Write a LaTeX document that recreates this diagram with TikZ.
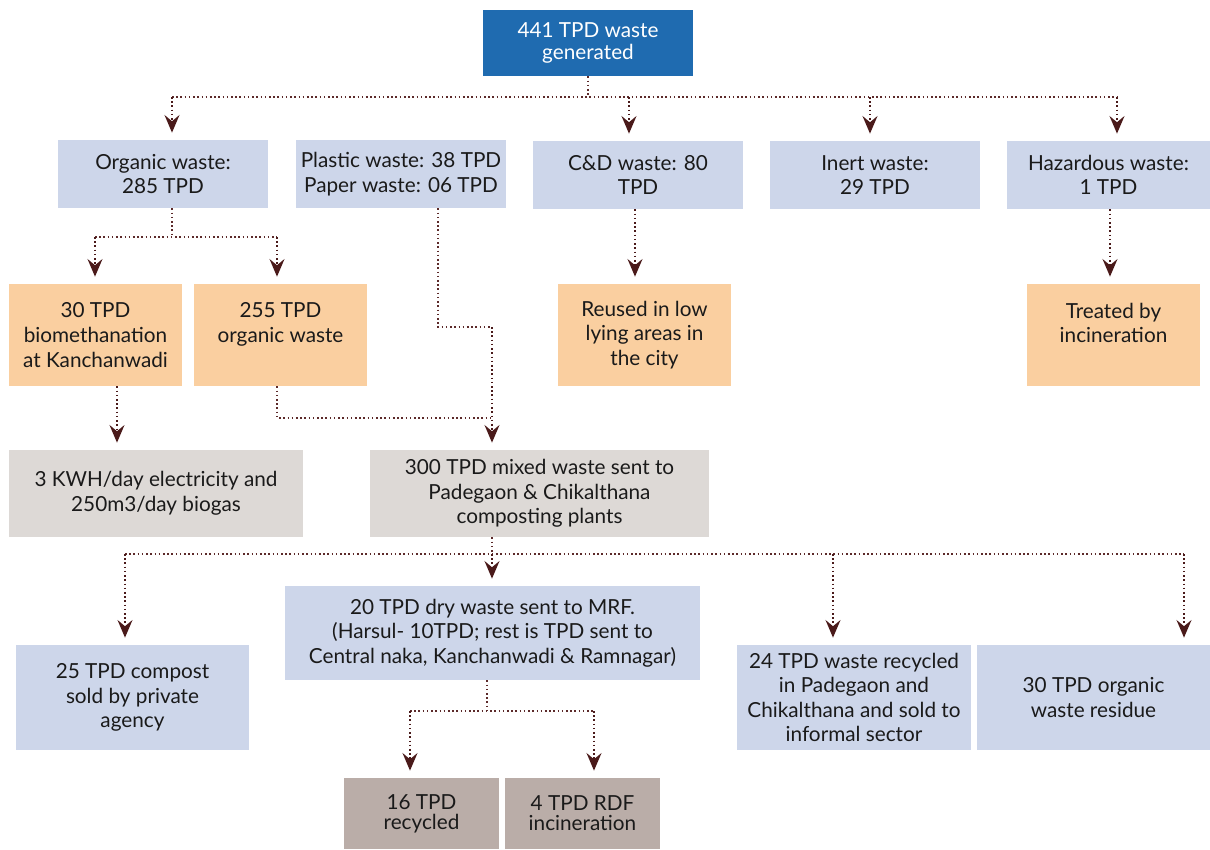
\documentclass[tikz,border=0pt]{standalone}
\usepackage{fontspec}
\setmainfont{Lato}
\usepackage{tikz}
\usetikzlibrary{arrows.meta,positioning,calc}
\usepackage{xcolor}
\definecolor{wblue}{RGB}{31,107,176}
\definecolor{wpale}{RGB}{205,214,234}
\definecolor{worange}{RGB}{250,207,160}
\definecolor{wgrey}{RGB}{221,217,214}
\definecolor{wmauve}{RGB}{186,173,168}
\definecolor{wline}{RGB}{92,42,42}
\definecolor{wtip}{RGB}{74,26,26}
\definecolor{wtext}{RGB}{26,26,26}
\tikzstyle{flow} = [line width=0.9pt, dash pattern=on 0.9pt off 1.5pt, color=wline]
\tikzstyle{arrow} = [flow, -{Stealth[length=10pt,width=8.5pt,inset=3.5pt]}, shorten >=4pt, color=wtip]
\tikzstyle{wbox} = [rectangle, inner sep=2pt, align=center, text=wtext, font=\fontsize{11.8}{14}\selectfont]
\tikzstyle{stream} = [wbox, fill=wpale, minimum width=4.2cm, minimum height=1.36cm]
\tikzstyle{route} = [wbox, fill=worange, minimum width=3.46cm, minimum height=2.04cm]
\tikzstyle{mrfout} = [wbox, fill=wmauve, minimum width=3.1cm, minimum height=1.42cm, font=\fontsize{11.8}{11.5}\selectfont]

\begin{document}
\begin{tikzpicture}[x=0.02cm, y=-0.02cm]
    \useasboundingbox (0,0) rectangle (1210,849);

    % Total waste
    \node[wbox, fill=wblue, text=white, minimum width=4.2cm, minimum height=1.32cm, font=\fontsize{11.8}{13}\selectfont] (gen) at (588,43) {441 TPD waste\\generated};

    % Waste streams
    \node[stream] (organic) at (163,174) {Organic waste:\\285 TPD};
    \node[stream] (plastic) at (401,174) {Plastic waste: 38 TPD\\Paper waste: 06 TPD};
    \node[stream] (cd) at (638,175) {C\&D waste: 80\\TPD};
    \node[stream] (inert) at (875,175) {Inert waste:\\29 TPD};
    \node[stream, minimum width=4.06cm] (hazard) at (1108.5,175) {Hazardous waste:\\1 TPD};

    % Treatment of the streams
    \node[route] (bio) at (95.5,335) {30 TPD\\biomethanation\\at Kanchanwadi};
    \node[route] (org255) at (280.5,335) {255 TPD\\organic waste\\\mbox{}};
    \node[route] (reuse) at (644.5,335) {Reused in low\\lying areas in\\the city};
    \node[route] (treat) at (1113.5,335) {Treated by\\incineration\\\mbox{}};

    % Outputs
    \node[wbox, fill=wgrey, minimum width=5.88cm, minimum height=1.74cm] (power) at (156,493.5) {3 KWH/day electricity and\\250m3/day biogas};
    \node[wbox, fill=wgrey, minimum width=6.78cm, minimum height=1.74cm] (mixed) at (539.5,493.5) {300 TPD mixed waste sent to\\Padegaon \& Chikalthana\\composting plants};

    % Plant outputs
    \node[stream, minimum width=4.66cm, minimum height=2.1cm] (compost) at (132.5,697.5) {25 TPD compost\\sold by private\\agency};
    \node[stream, minimum width=8.3cm, minimum height=1.88cm] (mrf) at (492.5,633) {20 TPD dry waste sent to MRF.\\(Harsul- 10TPD; rest is TPD sent to\\Central naka, Kanchanwadi \& Ramnagar)};
    \node[stream, minimum width=4.68cm, minimum height=2.1cm] (recyc24) at (854,697.5) {24 TPD waste recycled\\in Padegaon and\\Chikalthana and sold to\\informal sector};
    \node[stream, minimum width=4.66cm, minimum height=2.1cm] (residue) at (1093.5,697.5) {30 TPD organic\\waste residue};

    % MRF outputs
    \node[mrfout] (recyc16) at (421.5,813.5) {16 TPD\\recycled};
    \node[mrfout] (rdf) at (582.5,813.5) {4 TPD RDF\\incineration};

    % Split of the total
    \coordinate (t1) at (172,97);
    \coordinate (t2) at (629,97);
    \coordinate (t3) at (870,97);
    \coordinate (t4) at (1117,97);
    \draw[flow] (gen.south) -- (gen.south |- t1);
    \draw[flow] (t1) -- (t4);
    \draw[arrow] (t1) -- (t1 |- organic.north);
    \draw[arrow] (t2) -- (t2 |- cd.north);
    \draw[arrow] (t3) -- (t3 |- inert.north);
    \draw[arrow] (t4) -- (t4 |- hazard.north);

    % Organic split
    \coordinate (o0) at (172,237);
    \coordinate (o1) at (95,237);
    \coordinate (o2) at (277,237);
    \draw[flow] (o0 |- organic.south) -- (o0);
    \draw[flow] (o1) -- (o2);
    \draw[arrow] (o1) -- (o1 |- bio.north);
    \draw[arrow] (o2) -- (o2 |- org255.north);

    % To the composting plants
    \coordinate (p0) at (438,327);
    \coordinate (m0) at (492,327);
    \coordinate (g0) at (277,418);
    \draw[flow] (p0 |- plastic.south) -- (p0) -- (m0);
    \draw[flow] (g0 |- org255.south) -- (g0) -- (g0 -| m0);
    \draw[arrow] (m0) -- (m0 |- mixed.north);

    % Single routes
    \coordinate (b0) at (117,386);
    \coordinate (c0) at (635,209);
    \coordinate (h0) at (1110,209);
    \draw[arrow] (b0 |- bio.south) -- (b0 |- power.north);
    \draw[arrow] (c0 |- cd.south) -- (c0 |- reuse.north);
    \draw[arrow] (h0 |- hazard.south) -- (h0 |- treat.north);

    % Split at the plants
    \coordinate (x0) at (492,554);
    \coordinate (x1) at (125,554);
    \coordinate (x2) at (833,554);
    \coordinate (x4) at (1184,554);
    \draw[flow] (x0 |- mixed.south) -- (x0);
    \draw[flow] (x1) -- (x4);
    \draw[arrow] (x1) -- (x1 |- compost.north);
    \draw[arrow] (x0) -- (x0 |- mrf.north);
    \draw[arrow] (x2) -- (x2 |- recyc24.north);
    \draw[arrow] (x4) -- (x4 |- residue.north);

    % Split at the MRF
    \coordinate (r0) at (487,711);
    \coordinate (r1) at (410,711);
    \coordinate (r2) at (594,711);
    \draw[flow] (r0 |- mrf.south) -- (r0);
    \draw[flow] (r1) -- (r2);
    \draw[arrow] (r1) -- (r1 |- recyc16.north);
    \draw[arrow] (r2) -- (r2 |- rdf.north);
\end{tikzpicture}
\end{document}
